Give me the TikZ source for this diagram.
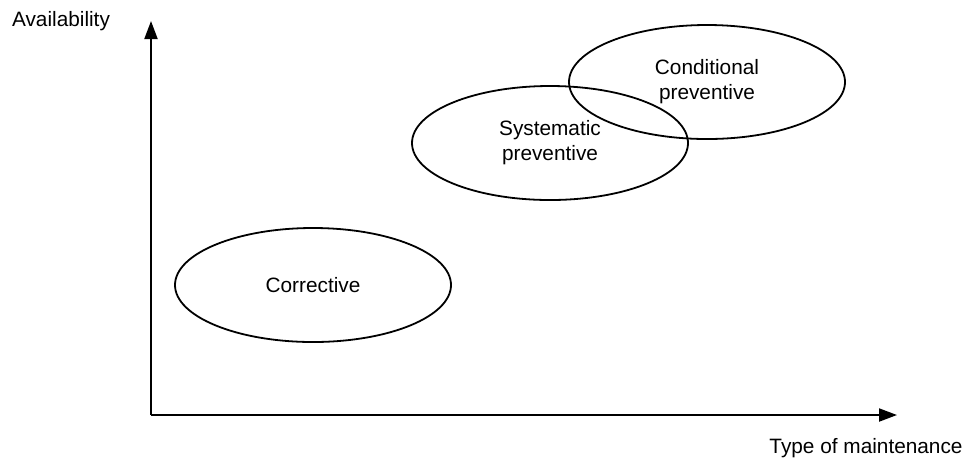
\documentclass[tikz,border=0pt]{standalone}
\usepackage{fontspec}
\setmainfont{Liberation Sans}
\usetikzlibrary{shapes.geometric,arrows.meta}
\begin{document}
\begin{tikzpicture}[x=0.5pt,y=-0.5pt,
	axis/.style = {line width=1pt,-{Triangle[length=9pt,width=6.5pt]}},
	zone/.style = {ellipse,draw,line width=0.9pt,inner sep=0pt,minimum width=138pt,minimum height=57pt,align=center},
	label/.style = {font=\fontsize{10.4}{12.5}\selectfont}]

	\useasboundingbox (0,0) rectangle (974,463);

	\coordinate (o) at (151,415);
	\coordinate (ytop) at (151,21);
	\coordinate (xend) at (897,415);
	\draw[axis] (o) -- (ytop);
	\draw[axis] (o) -- (xend);

	\node[label] (ylab) at (61,21) {Availability};
	\node[label] (xlab) at (866,448) {Type of maintenance};

	\node[zone,label] (corr) at (313,285) {Corrective};
	\node[zone,label] (syst) at (550,143) {Systematic\\preventive};
	\node[zone,label] (cond) at (707,82) {Conditional\\preventive};
\end{tikzpicture}
\end{document}
